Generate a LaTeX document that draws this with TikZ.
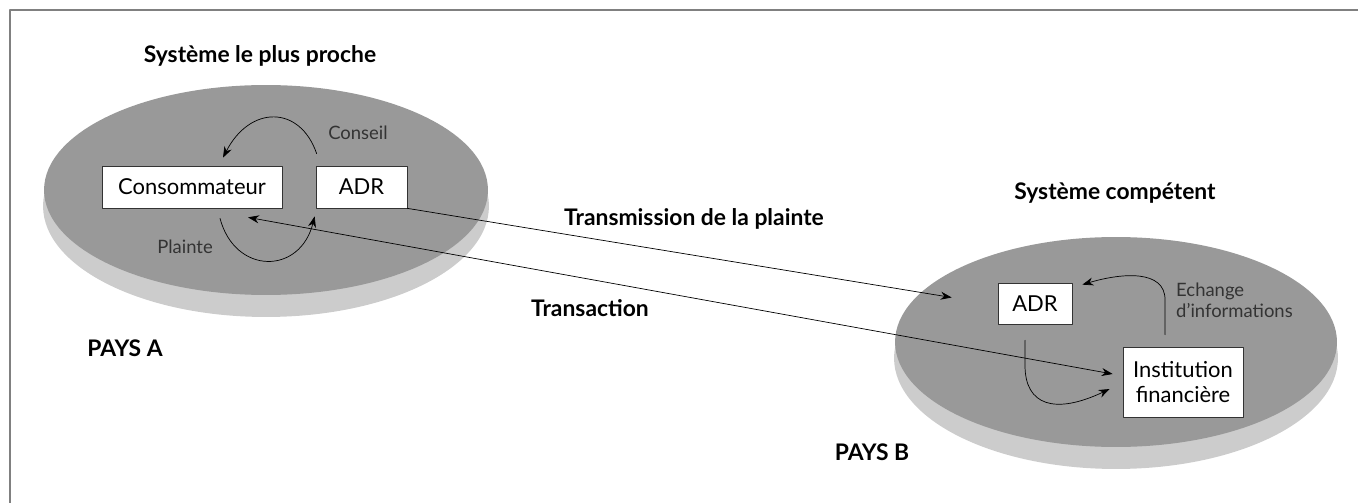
\documentclass[tikz,border=0pt]{standalone}
\usepackage{fontspec}
\setmainfont{Lato}
\usetikzlibrary{arrows.meta}

\tikzset{
    boite/.style={draw=black!80, fill=white, inner sep=0pt, font=\fontsize{12.5}{14.5}\selectfont},
    titre/.style={font=\bfseries\fontsize{13}{15}\selectfont},
    etiquette/.style={font=\fontsize{10.5}{12}\selectfont, text=black!80},
    fleche/.style={black, thin, -{Stealth[length=2.2mm, width=1.6mm]}},
}

\begin{document}
\begin{tikzpicture}[x=0.02cm, y=-0.02cm, line join=round, line cap=round]

            \useasboundingbox (0,0) rectangle (1358,503);

            % Cadre
            \draw[gray, thick] (10,503) -- (10,10) -- (1358,10);

            % Les deux zones (ombre puis ellipse)
            \fill[gray!40] (266,206) ellipse [x radius=4.46cm, y radius=2.22cm];
            \fill[gray!80] (266,190) ellipse [x radius=4.44cm, y radius=2.1cm];
            \fill[gray!40] (1116,358) ellipse [x radius=4.44cm, y radius=2.22cm];
            \fill[gray!80] (1116,342) ellipse [x radius=4.42cm, y radius=2.1cm];

            % Titres
            \node[titre] (titreA) at (260,56) {Système le plus proche};
            \node[titre] (titreB) at (1115,193) {Système compétent};
            \node[titre] (paysA) at (125,348) {PAYS A};
            \node[titre] (paysB) at (872,452) {PAYS B};

            % Boites du pays A
            \node[boite, minimum width=3.6cm, minimum height=0.84cm] (consA) at (192,187) {Consommateur};
            \node[boite, minimum width=1.82cm, minimum height=0.84cm] (adrA) at (361.5,187) {ADR};

            % Boites du pays B
            \node[boite, minimum width=1.48cm, minimum height=0.82cm] (adrB) at (1035,303.5) {ADR};
            \node[boite, minimum width=2.4cm, minimum height=1.4cm, align=center] (instB) at (1183,382) {Institution\\financière};

            % Etiquettes
            \node[etiquette] (conseil) at (358,133) {Conseil};
            \node[etiquette] (plainte) at (185,247) {Plainte};
            \node[etiquette, anchor=west, align=left] (echange) at (1170,300) {Echange\\d'informations};
            \node[titre] (transm) at (694,219) {Transmission de la plainte};
            \node[titre] (trans) at (590,308) {Transaction};

            % Fleches du pays A
            \draw[fleche] ([shift={(1,-12)}]adrA.north west) .. controls (300,105) and (250,105) .. ([shift={(31,-8)}]consA.north);
            \draw[fleche] ([shift={(28,10)}]consA.south) .. controls (235,275) and (300,275) .. ([shift={(-1,8)}]adrA.south west);

            % Fleches entre les pays
            \draw[fleche] (adrA.south east) -- ([shift={(-46,-6)}]adrB.west);
            \draw[fleche, {Stealth[length=2.2mm, width=1.6mm]}-{Stealth[length=2.2mm, width=1.6mm]}] ([shift={(56,9)}]consA.south) -- ([shift={(-10,-8)}]instB.west);

            % Fleches du pays B
            \draw[fleche] ([shift={(-18,-12)}]instB.north) -- ++(0,-35) .. controls +(0,-30) and +(40,-12) .. ([shift={(10,2)}]adrB.north east);
            \draw[fleche] ([shift={(-10,16)}]adrB.south) -- ++(0,25) .. controls +(0,40) and +(-55,26) .. ([shift={(-13,7)}]instB.west);

\end{tikzpicture}
\end{document}
